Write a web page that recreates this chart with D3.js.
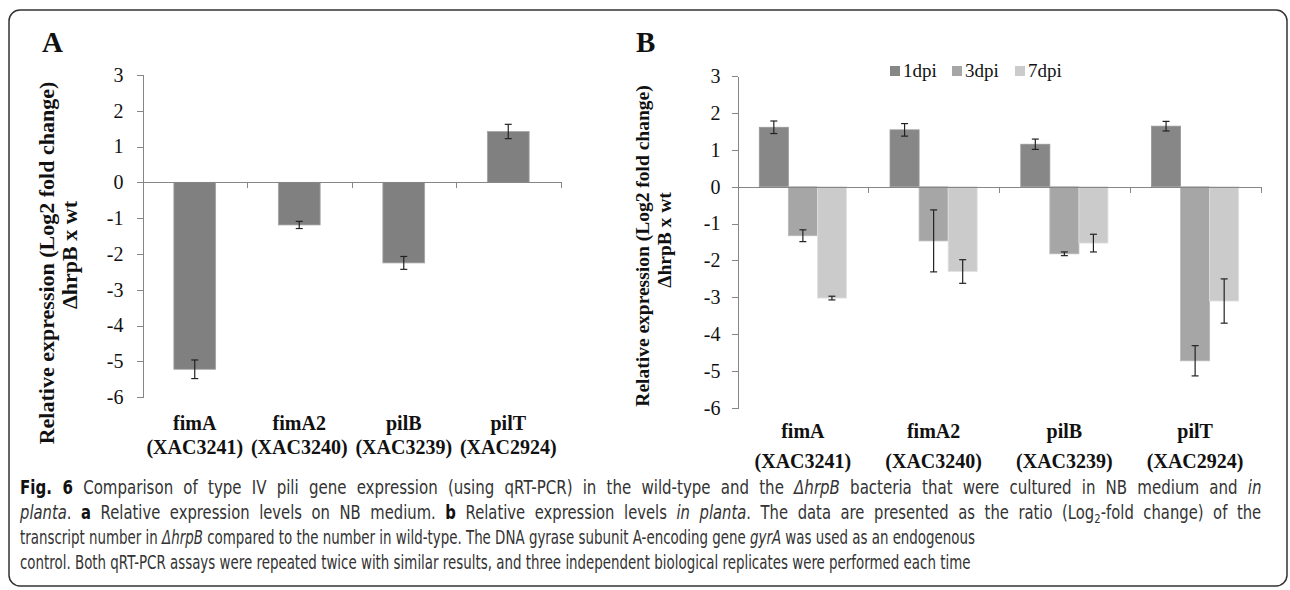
<!DOCTYPE html>
<html>
  <head>
    <meta charset="utf-8">
    <title>Type IV pili gene expression</title>
    <style>
      body { margin: 0; background: #fff; }
      svg { display: block; }
      .axis path, .axis line { stroke: #868686; shape-rendering: crispEdges; }
      .axis text { font-family: "Liberation Serif", serif; font-size: 20px; fill: #111; }
      .cat { font-family: "Liberation Serif", serif; font-weight: bold; font-size: 20px; fill: #111; text-anchor: middle; }
      .ytitle { font-family: "Liberation Serif", serif; font-weight: bold; fill: #111; text-anchor: middle; }
      .panel { font-family: "Liberation Serif", serif; font-weight: bold; font-size: 29px; fill: #111; }
      .legend { font-family: "Liberation Serif", serif; font-size: 19px; fill: #111; }
      .caption { font-family: "DejaVu Sans", sans-serif; font-size: 19px; fill: #333; }
      .err { stroke: #222; stroke-width: 1.2; }
    </style>
  </head>
  <body>
    <svg width="1290" height="590"></svg>

    <script src="https://d3js.org/d3.v7.min.js"></script>
    <script>
      // Categories and values
      var genes = ["fimA", "fimA2", "pilB", "pilT"];
      var loci = ["(XAC3241)", "(XAC3240)", "(XAC3239)", "(XAC2924)"];
      var yTicks = [3, 2, 1, 0, -1, -2, -3, -4, -5, -6];

      // panel A: NB medium
      var nbValues = [-5.22, -1.19, -2.25, 1.42];
      var nbErrors = [0.26, 0.1, 0.18, 0.2];

      // panel B: in planta
      var days = ["1dpi", "3dpi", "7dpi"];
      var dpi1 = [1.61, 1.54, 1.15, 1.64];
      var dpi3 = [-1.33, -1.47, -1.82, -4.72];
      var dpi7 = [-3.02, -2.30, -1.53, -3.10];
      var dpi1Err = [0.17, 0.17, 0.14, 0.13];
      var dpi3Err = [0.16, 0.84, 0.05, 0.41];
      var dpi7Err = [0.05, 0.32, 0.24, 0.6];
      var dayColors = ["#878787", "#a6a6a6", "#cbcbcb"];

      var svg = d3.select("svg");

      // outer frame
      svg.append("rect")
        .attr("x", 9).attr("y", 10)
        .attr("width", 1278).attr("height", 576)
        .attr("rx", 11)
        .attr("fill", "none")
        .attr("stroke", "#333")
        .attr("stroke-width", 1.5);

      function yAxis(g, y, x0, pad) {
        g.append("g")
          .attr("class", "axis")
          .attr("transform", "translate(" + x0 + ",0)")
          .call(d3.axisLeft(y).tickValues(yTicks).tickSize(6).tickSizeOuter(0)
            .tickPadding(pad).tickFormat(function(d) { return String(d); }));
      }

      function xAxis(g, x, y) {
        var edges = d3.scaleLinear().domain([0, genes.length]).range(x.range());
        g.append("g")
          .attr("class", "axis")
          .attr("transform", "translate(0," + y(0) + ")")
          .call(d3.axisBottom(edges).tickValues(d3.range(0, genes.length + 1))
            .tickSize(6).tickSizeOuter(0).tickFormat(""));
      }

      function errorBars(g, xs, ys, lo, hi) {
        g.selectAll(null).data(xs).enter().each(function(cx, i) {
          var s = d3.select(this);
          s.append("line").attr("class", "err")
            .attr("x1", cx).attr("x2", cx).attr("y1", lo[i]).attr("y2", hi[i]);
          s.append("line").attr("class", "err")
            .attr("x1", cx - 3.5).attr("x2", cx + 3.5).attr("y1", lo[i]).attr("y2", lo[i]);
          s.append("line").attr("class", "err")
            .attr("x1", cx - 3.5).attr("x2", cx + 3.5).attr("y1", hi[i]).attr("y2", hi[i]);
        });
      }

      // ---------- Panel A ----------
      var gA = svg.append("g");
      var xA = d3.scaleBand().domain(genes).range([142.5, 560.5]);
      var yA = d3.scaleLinear().domain([-6, 3]).range([397.2, 74.9]);
      var bwA = xA.bandwidth() * 0.4;

      gA.append("text").attr("class", "panel").attr("x", 42).attr("y", 52).text("A");

      gA.selectAll(".barA").data(nbValues).enter().append("rect")
        .attr("class", "barA")
        .attr("x", function(d, i) { return xA(genes[i]) + (xA.bandwidth() - bwA) / 2; })
        .attr("y", function(d) { return yA(Math.max(0, d)); })
        .attr("width", bwA)
        .attr("height", function(d) { return Math.abs(yA(d) - yA(0)); })
        .attr("fill", "#808080")
        .attr("stroke", "#a5a5a5")
        .attr("stroke-width", 0.8);

      errorBars(gA,
        genes.map(function(g) { return xA(g) + xA.bandwidth() / 2; }),
        nbValues,
        nbValues.map(function(d, i) { return yA(d + nbErrors[i]); }),
        nbValues.map(function(d, i) { return yA(d - nbErrors[i]); }));

      yAxis(gA, yA, 142.5, 13);
      xAxis(gA, xA, yA);

      gA.selectAll(".catA").data(genes).enter().append("text")
        .attr("class", "cat")
        .attr("x", function(d) { return xA(d) + xA.bandwidth() / 2; })
        .attr("y", 430)
        .text(function(d) { return d; });
      gA.selectAll(".locA").data(loci).enter().append("text")
        .attr("class", "cat")
        .attr("x", function(d, i) { return xA(genes[i]) + xA.bandwidth() / 2; })
        .attr("y", 454)
        .text(function(d) { return d; });

      var tA = gA.append("g").attr("transform", "translate(0,263) rotate(-90)");
      tA.append("text").attr("class", "ytitle").attr("x", 0).attr("y", 54)
        .style("font-size", "22px").text("Relative expression (Log2 fold change)");
      tA.append("text").attr("class", "ytitle").attr("x", 8).attr("y", 77)
        .style("font-size", "22px").text("\u0394hrpB x wt");

      // ---------- Panel B ----------
      var gB = svg.append("g");
      var x0 = d3.scaleBand().domain(genes).range([737.5, 1260.5]);
      var unit = x0.bandwidth() / 4.5;
      var x1 = d3.scaleBand().domain(days).range([0, 3 * unit]);
      var yB = d3.scaleLinear().domain([-6, 3]).range([408, 76]);
      var seriesB = [dpi1, dpi3, dpi7];
      var errB = [dpi1Err, dpi3Err, dpi7Err];

      gB.append("text").attr("class", "panel").attr("x", 636).attr("y", 52).text("B");

      seriesB.forEach(function(vals, s) {
        gB.selectAll(".bar" + s).data(vals).enter().append("rect")
          .attr("class", "bar" + s)
          .attr("x", function(d, i) { return x0(genes[i]) + 0.75 * unit + x1(days[s]); })
          .attr("y", function(d) { return yB(Math.max(0, d)); })
          .attr("width", x1.bandwidth())
          .attr("height", function(d) { return Math.abs(yB(d) - yB(0)); })
          .attr("fill", dayColors[s])
          .attr("stroke", d3.color(dayColors[s]).brighter(0.3))
          .attr("stroke-width", 0.8);
      });

      seriesB.forEach(function(vals, s) {
        errorBars(gB,
          genes.map(function(g) { return x0(g) + 0.75 * unit + x1(days[s]) + x1.bandwidth() / 2; }),
          vals,
          vals.map(function(d, i) { return yB(d + errB[s][i]); }),
          vals.map(function(d, i) { return yB(d - errB[s][i]); }));
      });

      yAxis(gB, yB, 737.5, 11);
      xAxis(gB, x0, yB);

      gB.selectAll(".catB").data(genes).enter().append("text")
        .attr("class", "cat")
        .attr("x", function(d) { return x0(d) + x0.bandwidth() / 2; })
        .attr("y", 438)
        .text(function(d) { return d; });
      gB.selectAll(".locB").data(loci).enter().append("text")
        .attr("class", "cat")
        .attr("x", function(d, i) { return x0(genes[i]) + x0.bandwidth() / 2; })
        .attr("y", 468)
        .text(function(d) { return d; });

      var tB = gB.append("g").attr("transform", "translate(0,246) rotate(-90)");
      tB.append("text").attr("class", "ytitle").attr("x", 0).attr("y", 649)
        .style("font-size", "19.5px").text("Relative expression (Log2 fold change)");
      tB.append("text").attr("class", "ytitle").attr("x", 6).attr("y", 671)
        .style("font-size", "19.5px").text("\u0394hrpB x wt");

      // legend
      var legX = [890, 952, 1015];
      var leg = gB.selectAll(".leg").data(days).enter().append("g")
        .attr("transform", function(d, i) { return "translate(" + legX[i] + ",66)"; });
      leg.append("rect").attr("width", 10).attr("height", 10)
        .attr("fill", function(d, i) { return dayColors[i]; });
      leg.append("text").attr("class", "legend").attr("x", 13).attr("y", 11)
        .text(function(d) { return d; });

      // ---------- Caption ----------
      var captionLines = [
        [["b", "Fig. 6"], ["", " Comparison of type IV pili gene expression (using qRT-PCR) in the wild-type and the "], ["i", "\u0394hrpB"], ["", " bacteria that were cultured in NB medium and "], ["i", "in"]],
        [["i", "planta"], ["", ". "], ["b", "a"], ["", " Relative expression levels on NB medium. "], ["b", "b"], ["", " Relative expression levels "], ["i", "in planta"], ["", ". The data are presented as the ratio (Log"], ["sub", "2"], ["up", "-fold change) of the"]],
        [["", "transcript number in "], ["i", "\u0394hrpB"], ["", " compared to the number in wild-type. The DNA gyrase subunit A-encoding gene "], ["i", "gyrA"], ["", " was used as an endogenous"]],
        [["", "control. Both qRT-PCR assays were repeated twice with similar results, and three independent biological replicates were performed each time"]]
      ];
      var capY = [494, 519, 544, 569];
      var justified = [true, true, false, false];

      // condensed, justified caption: draw at natural width, then squeeze horizontally
      var capTexts = captionLines.map(function(parts, li) {
        var g = svg.append("g");
        var t = g.append("text").attr("class", "caption").attr("x", 0).attr("y", 0);
        parts.forEach(function(p) {
          var ts = t.append("tspan").text(p[1]);
          if (p[0] === "b") ts.style("font-weight", "bold").style("fill", "#111");
          if (p[0] === "i") ts.style("font-style", "italic");
          if (p[0] === "sub") ts.style("font-size", "13px").attr("dy", 4);
          if (p[0] === "up") ts.attr("dy", -4);
        });
        return { g: g, t: t, words: parts.map(function(p) { return p[1]; }).join("").split(" ").length - 1 };
      });
      // lines 3 and 4 end at about x = 1017 and x = 929 in the figure
      var sx = ((997 / capTexts[2].t.node().getComputedTextLength()) +
                (909 / capTexts[3].t.node().getComputedTextLength())) / 2;
      capTexts.forEach(function(c, li) {
        var s = sx;
        if (justified[li]) {
          var natural = c.t.node().getComputedTextLength();
          // split the stretch between glyph width and word spacing
          var ratio = 1242 / (natural * sx);
          s = sx * Math.sqrt(ratio);
          c.t.attr("word-spacing", Math.max(0, (1242 / s - natural) / c.words));
        }
        c.g.attr("transform", "translate(20," + capY[li] + ") scale(" + s + ",1)");
      });
    </script>
  </body>
</html>
